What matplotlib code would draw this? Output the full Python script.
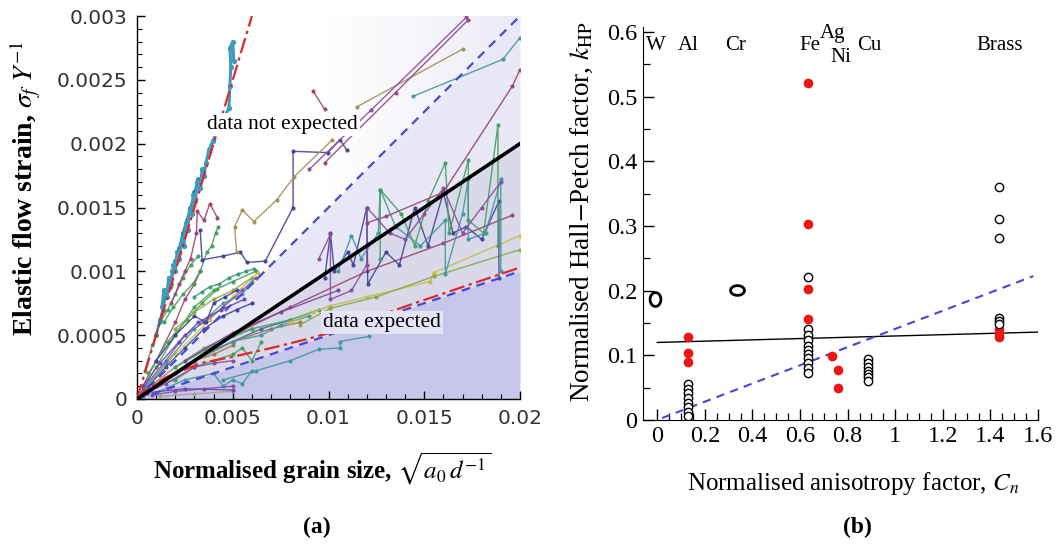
import numpy as np
import matplotlib
matplotlib.use("Agg")
import matplotlib.pyplot as plt
from matplotlib.path import Path
from matplotlib.patches import Polygon
from matplotlib.colors import LinearSegmentedColormap
from matplotlib.ticker import MultipleLocator, FixedLocator, FuncFormatter

plt.rcParams['font.family'] = ['Liberation Serif', 'DejaVu Serif']
plt.rcParams['mathtext.fontset'] = 'stix'

# ---------------- panel (a): elastic flow strain vs normalised grain size ----------------
# reference lines  sigma_f / Y = k * sqrt(a0/d)
ref_x = [0.0, 0.02]
ref_low = [0.0, 0.001]      # k = 0.05
ref_mid = [0.0, 0.002]      # k = 0.10
ref_high = [0.0, 0.003]     # k = 0.15
steep_x = [0.0, 0.006]
steep_y = [0.0, 0.003]
# lower red fit (units of 1e-3)
redfit_x = [0.0, 0.5, 1.5, 3.3, 5.0, 7.3, 8.9, 10.1, 14.3, 20.0]
redfit_y = [0.0, 0.07, 0.17, 0.28, 0.33, 0.41, 0.47, 0.52, 0.74, 1.03]

# experimental series, both coordinates in units of 1e-3
cyan_x = [1.3, 1.4, 1.55, 1.65, 1.8, 1.9, 2.0, 2.1, 2.2, 2.35, 2.45, 2.55, 2.65, 2.75, 2.85, 2.95, 3.05, 3.15,
          3.3, 3.4, 3.5, 3.6, 3.75, 3.95, 4.8, 4.85, 4.9, 4.85, 5.0, 5.05]
cyan_y = [0.72, 0.85, 0.8, 0.95, 0.9, 1.05, 1.0, 1.15, 1.1, 1.25, 1.2, 1.38, 1.32, 1.5, 1.45, 1.6, 1.55, 1.7,
          1.65, 1.8, 1.75, 1.85, 1.95, 2.02, 2.28, 2.45, 2.6, 2.75, 2.8, 2.65]
cyan2_x = [1.0, 1.2, 1.35, 1.5, 1.7, 1.85, 2.0, 2.2, 2.4, 2.6, 2.8, 3.0, 3.2]
cyan2_y = [0.5, 0.62, 0.7, 0.82, 0.88, 1.0, 1.08, 1.18, 1.3, 1.4, 1.5, 1.62, 1.72]
plum_steep_x = [1.8, 2.2, 2.5, 2.8, 3.1, 3.15, 3.5, 3.8, 4.2]
plum_steep_y = [0.75, 0.9, 1.0, 1.1, 1.3, 1.47, 1.4, 1.53, 1.42]
green_steep_x = [1.4, 1.9, 2.4, 2.9, 3.3, 3.65, 3.9, 4.1, 4.25]
green_steep_y = [0.6, 0.72, 0.82, 0.9, 1.0, 1.15, 1.2, 1.3, 1.35]
navy_long_x = [3.3, 3.4, 4.5, 5.4, 5.75, 6.7, 8.15, 8.15, 9.97, 10.6, 10.96]
navy_long_y = [1.32, 1.09, 1.12, 1.15, 1.07, 1.08, 1.5, 1.94, 1.93, 2.03, 1.95]
olive_zig_x = [5.2, 5.1, 5.5, 6.1, 7.3, 8.2, 10.2]
olive_zig_y = [1.15, 1.35, 1.48, 1.39, 1.56, 1.74, 2.03]
olive_long_x = [11.5, 17.0]
olive_long_y = [2.29, 2.74]
purple_long_x = [9.0, 12.2, 17.2]
purple_long_y = [1.80, 2.26, 2.99]
plum_long_x = [9.8, 13.5, 17.3]
plum_long_y = [1.85, 2.4, 2.97]
teal_up_x = [14.4, 19.1, 20.0]
teal_up_y = [2.37, 2.66, 2.83]
plum_up_x = [12.0, 13.0, 16.0, 19.6, 20.0]
plum_up_y = [1.38, 1.43, 1.62, 2.45, 2.58]
plum_short_x = [9.2, 9.8]
plum_short_y = [2.41, 2.27]

zig_navy_x = [9.8, 10.1, 10.3, 11.0, 11.3, 12.0, 12.05, 13.0, 13.7, 14.5, 15.2, 16.0, 16.5, 17.2, 18.0, 18.9, 18.9]
zig_navy_y = [0.95, 1.3, 1.0, 1.15, 1.05, 1.5, 0.9, 1.15, 1.05, 1.5, 1.2, 1.62, 1.3, 1.35, 1.25, 1.55, 0.95]
zig_teal_x = [10.5, 11.2, 11.7, 12.6, 12.7, 13.5, 14.8, 16.1, 16.1, 17.0, 17.3, 17.3, 18.2, 19.0, 19.0]
zig_teal_y = [1.0, 1.28, 1.1, 1.3, 1.64, 1.35, 1.2, 1.4, 0.98, 1.45, 1.72, 1.25, 1.3, 1.72, 1.0]
zig_green_x = [12.7, 12.7, 13.8, 14.5, 15.2, 16.1, 16.3, 17.3, 17.3, 18.1, 18.85, 18.85]
zig_green_y = [1.1, 1.64, 1.45, 1.2, 1.55, 1.85, 1.3, 1.87, 1.4, 1.3, 2.15, 1.2]
zig_purple_x = [9.5, 10.1, 10.1, 11.2, 12.0, 12.0, 13.2, 14.0, 15.0, 16.0, 17.0, 18.0, 19.0]
zig_purple_y = [1.1, 1.29, 0.78, 0.85, 1.05, 1.5, 1.3, 1.25, 1.45, 1.65, 1.3, 1.5, 1.7]

plum_low_x = [5.0, 8.0, 12.0, 16.0, 19.6]
plum_low_y = [0.5, 0.72, 1.0, 1.22, 1.44]
yellow_x = [8.0, 9.2, 10.1, 12.0, 15.3, 15.5, 20.0]
yellow_y = [0.6, 0.68, 0.73, 0.8, 0.92, 0.99, 1.28]
lime_x = [8.5, 10.1, 12.5, 15.5, 20.0]
lime_y = [0.58, 0.71, 0.8, 0.96, 1.17]
teal_low_x = [4.5, 6.2, 8.0, 9.5, 10.6, 10.6, 12.1]
teal_low_y = [0.15, 0.22, 0.3, 0.39, 0.4, 0.45, 0.49]

fan01_x = [0.2, 1.0, 2.0, 3.0, 4.0, 5.0, 6.2]
fan01_y = [0.05, 0.25, 0.5, 0.72, 0.85, 0.92, 1.0]
fan02_x = [0.5, 2.0, 3.8, 5.0, 6.3]
fan02_y = [0.1, 0.35, 0.62, 0.8, 0.99]
fan03_x = [0.3, 1.5, 2.5, 3.5, 4.5, 5.5, 6.2]
fan03_y = [0.08, 0.3, 0.5, 0.6, 0.72, 0.85, 0.95]
fan04_x = [0.5, 1.5, 3.0, 4.5, 5.5, 6.0]
fan04_y = [0.1, 0.28, 0.55, 0.75, 0.82, 0.92]
fan05_x = [0.4, 0.8, 1.2, 1.6, 2.0, 2.4, 2.8, 3.2]
fan05_y = [0.22, 0.42, 0.6, 0.7, 0.82, 0.95, 1.05, 1.12]
fan06_x = [3.0, 3.4, 3.8, 4.3, 4.8, 5.3, 5.7, 6.1]
fan06_y = [0.8, 0.84, 0.88, 0.9, 0.95, 0.98, 1.0, 1.02]
fan07_x = [0.3, 1.0, 2.0, 2.5, 3.0, 3.3]
fan07_y = [0.1, 0.3, 0.6, 0.78, 0.9, 1.0]
fan08_x = [0.3, 1.5, 2.5, 3.5, 4.5, 5.2, 6.0]
fan08_y = [0.05, 0.25, 0.4, 0.55, 0.65, 0.7, 0.75]
fan09_x = [0.5, 2.0, 3.5, 5.0, 6.5, 8.0]
fan09_y = [0.05, 0.2, 0.35, 0.45, 0.55, 0.62]
fan10_x = [0.5, 2.0, 3.5, 5.0, 6.0]
fan10_y = [0.08, 0.25, 0.4, 0.5, 0.55]
fan11_x = [0.5, 2.0, 3.0, 4.0, 5.0]
fan11_y = [0.06, 0.2, 0.3, 0.35, 0.42]
fan12_x = [1.0, 2.0, 3.0, 4.0, 5.0, 5.5, 6.0, 6.5]
fan12_y = [0.1, 0.15, 0.25, 0.3, 0.35, 0.4, 0.3, 0.45]
fan13_x = [1.0, 2.5, 4.0, 4.5, 5.0, 5.5, 6.0]
fan13_y = [0.05, 0.15, 0.2, 0.1, 0.15, 0.12, 0.22]
fan14_x = [0.5, 1.5, 3.0, 4.0, 5.0]
fan14_y = [0.05, 0.12, 0.25, 0.28, 0.3]
fan15_x = [0.3, 1.2, 2.2, 3.2, 4.4, 5.6]
fan15_y = [0.1, 0.28, 0.45, 0.6, 0.7, 0.78]
fan16_x = [0.6, 1.6, 2.6, 3.4, 4.2]
fan16_y = [0.2, 0.45, 0.62, 0.75, 0.86]
fan17_x = [2.0, 3.0, 4.0, 5.0, 6.0]
fan17_y = [0.55, 0.68, 0.78, 0.85, 0.95]
fan18_x = [1.0, 2.0, 3.0, 3.6, 4.0, 4.6, 5.2]
fan18_y = [0.3, 0.5, 0.65, 0.6, 0.75, 0.8, 0.85]

mid01_x = [2.0, 4.0, 6.0, 8.0, 9.5]
mid01_y = [0.25, 0.42, 0.55, 0.62, 0.7]
mid02_x = [1.0, 3.0, 5.0, 7.0, 8.5]
mid02_y = [0.12, 0.3, 0.45, 0.55, 0.6]
mid03_x = [3.0, 5.0, 6.5, 7.5, 9.0]
mid03_y = [0.3, 0.45, 0.5, 0.58, 0.65]
mid04_x = [2.5, 5.0, 7.5, 10.5]
mid04_y = [0.3, 0.52, 0.68, 0.85]

base01_x = [0.8, 2.0, 3.5, 5.0]
base01_y = [0.03, 0.06, 0.08, 0.1]
base02_x = [1.2, 3.0, 5.0]
base02_y = [0.02, 0.04, 0.06]
base03_x = [0.5, 2.5, 5.0]
base03_y = [0.05, 0.08, 0.07]

# ---------------- panel (b): Hall-Petch factor vs anisotropy factor ----------------
metal_names = ['W', 'Al', 'Cr', 'Fe', 'Ag', 'Ni', 'Cu', 'Brass']
name_x = [-0.008, 0.13, 0.33, 0.64, 0.735, 0.77, 0.89, 1.44]
name_y = [0.58, 0.58, 0.58, 0.58, 0.598, 0.561, 0.58, 0.58]

w_x = [-0.01]
w_y = [0.187]
cr_x = [0.336]
cr_y = [0.201]
open_x = ([0.13] * 8 + [0.634] * 11 + [0.886] * 7 + [1.437] * 6)
open_y = ([0.055, 0.048, 0.041, 0.034, 0.027, 0.020, 0.013, 0.006]
          + [0.221, 0.141, 0.131, 0.123, 0.115, 0.108, 0.102, 0.096, 0.088, 0.080, 0.073]
          + [0.095, 0.088, 0.082, 0.076, 0.071, 0.066, 0.060]
          + [0.360, 0.311, 0.281, 0.158, 0.153, 0.148])
red_x = [0.13, 0.13, 0.13, 0.634, 0.634, 0.634, 0.634, 0.735, 0.76, 0.76, 1.437, 1.437, 1.437]
red_y = [0.128, 0.104, 0.090, 0.521, 0.304, 0.203, 0.157, 0.099, 0.077, 0.049, 0.141, 0.135, 0.129]
fit_x = [0.0, 1.6]
fit_y = [0.120, 0.136]
model_x = [0.02, 1.58]
model_y = [0.003, 0.2226]

# ---------------- figure ----------------
W, H = 1059, 555
fig = plt.figure(figsize=(W / 100, H / 100), dpi=100)
axa = fig.add_axes([137 / W, 156 / H, 383 / W, 383 / H])
axb = fig.add_axes([643 / W, 135 / H, 395 / W, 393 / H])

NAVY = '#40409a'
PLUM = '#9a4272'
OLIVE = '#a39050'
GREEN = '#42a05a'
BLUE = '#4262a6'
PURPLE = '#8a4aa6'
BROWN = '#a37442'
LIME = '#8aa845'
TEAL = '#3f98a3'
VIOLET = '#6c48a6'
YELLOW = '#c4bc4a'
CYAN = '#3d9cc0'

m = 1e-3
series = [
    (fan01_x, fan01_y, GREEN), (fan02_x, fan02_y, YELLOW), (fan03_x, fan03_y, PURPLE),
    (fan04_x, fan04_y, TEAL), (fan05_x, fan05_y, GREEN), (fan06_x, fan06_y, '#3d9a78'),
    (fan07_x, fan07_y, PLUM), (fan08_x, fan08_y, NAVY), (fan09_x, fan09_y, BLUE),
    (fan10_x, fan10_y, OLIVE), (fan11_x, fan11_y, BROWN), (fan12_x, fan12_y, GREEN),
    (fan13_x, fan13_y, TEAL), (fan14_x, fan14_y, PURPLE), (fan15_x, fan15_y, VIOLET),
    (fan16_x, fan16_y, '#4aa84a'), (fan17_x, fan17_y, LIME), (fan18_x, fan18_y, NAVY),
    (mid01_x, mid01_y, GREEN), (mid02_x, mid02_y, BROWN), (mid03_x, mid03_y, TEAL),
    (mid04_x, mid04_y, VIOLET),
    (base01_x, base01_y, PURPLE), (base02_x, base02_y, '#b0a080'), (base03_x, base03_y, VIOLET),
    (plum_low_x, plum_low_y, PLUM), (yellow_x, yellow_y, YELLOW), (lime_x, lime_y, LIME),
    (teal_low_x, teal_low_y, TEAL),
    (zig_navy_x, zig_navy_y, NAVY), (zig_teal_x, zig_teal_y, TEAL),
    (zig_green_x, zig_green_y, GREEN), (zig_purple_x, zig_purple_y, PURPLE),
    (plum_steep_x, plum_steep_y, PLUM), (green_steep_x, green_steep_y, GREEN),
    (navy_long_x, navy_long_y, NAVY), (olive_zig_x, olive_zig_y, OLIVE),
    (olive_long_x, olive_long_y, OLIVE), (purple_long_x, purple_long_y, PURPLE),
    (plum_long_x, plum_long_y, PLUM), (teal_up_x, teal_up_y, TEAL),
    (plum_up_x, plum_up_y, PLUM), (plum_short_x, plum_short_y, PLUM),
]

# shaded regions between the reference lines
axa.fill_between(ref_x, 0, ref_low, color='#c6c6ea', lw=0, zorder=0)
axa.fill_between(ref_x, ref_low, ref_mid, color='#d9d9ea', lw=0, zorder=0)
axa.fill_between(ref_x, ref_mid, ref_high, color='#e8e8f6', lw=0, zorder=0)
# faint haze above the upper line, fading towards the y axis
haze = LinearSegmentedColormap.from_list('haze', ['#ffffff', '#ffffff', '#ebebf7'])
im = axa.imshow(np.linspace(0, 1, 256).reshape(1, -1), extent=[0, 0.02, 0, 0.003],
                aspect='auto', cmap=haze, origin='lower', zorder=0, interpolation='bilinear')
im.set_clip_path(Polygon([[0, 0], [0.02, 0.003], [0, 0.003]], closed=True, transform=axa.transData))

for xs, ys, c in series:
    axa.plot(np.array(xs) * m, np.array(ys) * m, color=c, lw=1.0, marker='o', ms=2.0,
             alpha=0.9, zorder=2)
axa.plot(np.array(cyan2_x) * m, np.array(cyan2_y) * m, color='#2f82a8', lw=1.8, marker='o', ms=2.5, zorder=2)
axa.plot(np.array(cyan_x) * m, np.array(cyan_y) * m, color=CYAN, lw=2.2, marker='o', ms=2.8, zorder=2)

dash = (0, (4, 3))
dashdot = (0, (7, 2, 1.5, 2))
axa.plot(ref_x, ref_high, color='#4848d6', lw=1.6, ls=dash, zorder=3)
axa.plot(ref_x, ref_low, color='#4848d6', lw=1.6, ls=dash, zorder=3)
axa.plot(np.array(redfit_x) * m, np.array(redfit_y) * m, color='#e02828', lw=1.6, ls=dashdot, zorder=3)
axa.plot(steep_x, steep_y, color='#e02828', lw=1.6, ls=dashdot, zorder=3)
axa.plot(ref_x, ref_mid, color='black', lw=2.6, zorder=4)

axa.text(0.0076, 0.00215, 'data not expected', ha='center', va='center', fontsize=15.5,
         bbox=dict(fc='white', ec='none', pad=1.5), zorder=6)
axa.text(0.0128, 0.0006, 'data expected', ha='center', va='center', fontsize=15.5,
         bbox=dict(fc='#e4e4f6', ec='none', pad=1.5), zorder=6)

axa.set_xlim(0, 0.02)
axa.set_ylim(0, 0.003)
for s in ('top', 'right'):
    axa.spines[s].set_visible(False)
for s in ('left', 'bottom'):
    axa.spines[s].set_linewidth(1.0)
axa.xaxis.set_major_locator(MultipleLocator(0.005))
axa.xaxis.set_minor_locator(MultipleLocator(0.001))
axa.yaxis.set_major_locator(MultipleLocator(0.0005))
axa.yaxis.set_minor_locator(MultipleLocator(0.0001))
fmt = FuncFormatter(lambda v, p: f'{v:g}')
axa.xaxis.set_major_formatter(fmt)
axa.yaxis.set_major_formatter(fmt)
axa.tick_params(which='major', direction='in', length=6, width=1.0, labelsize=14.5, pad=7,
                labelcolor='#333333')
axa.tick_params(which='minor', direction='in', length=3.5, width=0.8)
for lab in axa.get_xticklabels() + axa.get_yticklabels():
    lab.set_family('DejaVu Sans')
axa.set_ylabel(r'Elastic flow strain, $\sigma_f\;Y^{-1}$', fontsize=20, fontweight='bold')
axa.yaxis.set_label_coords(-0.245, 0.55)
axa.set_xlabel(r'Normalised grain size, $\sqrt{a_0\,d^{-1}}$', fontsize=18, fontweight='bold')
axa.xaxis.set_label_coords(0.483, -0.135)

# ---- panel (b) ----
axb.plot(fit_x, fit_y, color='black', lw=1.0, zorder=2)
axb.plot(model_x, model_y, color='#4646d2', lw=1.5, ls=(0, (4, 3)), zorder=2)
axb.plot(red_x, red_y, ls='none', marker='o', ms=7, mfc='#ee1515', mec='none', zorder=3)
axb.plot(open_x, open_y, ls='none', marker='o', ms=6, mfc='white', mec='black', mew=1.0, zorder=4)

theta = np.linspace(0, 2 * np.pi, 80)
tall = Path(np.column_stack([0.78 * np.cos(theta), np.sin(theta)]), closed=True)
wide = Path(np.column_stack([np.cos(theta), 0.7 * np.sin(theta)]), closed=True)
axb.plot(w_x, w_y, ls='none', marker=tall, ms=10, mfc='white', mec='black', mew=2.0, zorder=4)
axb.plot(cr_x, cr_y, ls='none', marker=wide, ms=10, mfc='white', mec='black', mew=2.0, zorder=4)

for name, tx, ty in zip(metal_names, name_x, name_y):
    axb.text(tx, ty, name, ha='center', va='center', fontsize=15)

axb.set_xlim(-0.06, 1.6)
axb.set_ylim(0, 0.608)
for s in ('top', 'right'):
    axb.spines[s].set_visible(False)
axb.xaxis.set_major_locator(FixedLocator(np.arange(0, 1.61, 0.2)))
axb.xaxis.set_minor_locator(FixedLocator(np.arange(0, 1.61, 0.05)))
axb.yaxis.set_major_locator(MultipleLocator(0.1))
axb.yaxis.set_minor_locator(MultipleLocator(0.05))
axb.xaxis.set_major_formatter(fmt)
axb.yaxis.set_major_formatter(fmt)
axb.tick_params(which='major', direction='in', length=8, width=1.0, labelsize=17.5, pad=4)
axb.tick_params(which='minor', direction='in', length=5, width=0.9)
axb.set_ylabel(r'Normalised Hall$-$Petch factor, $k_{\mathrm{HP}}$', fontsize=19.5)
axb.yaxis.set_label_coords(-0.122, 0.53)
axb.set_xlabel(r'Normalised anisotropy factor, $C_n$', fontsize=18)
axb.xaxis.set_label_coords(0.532, -0.128)

fig.text(317 / W, 1 - 527 / H, '(a)', ha='center', va='center', fontsize=17, fontweight='bold')
fig.text(857 / W, 1 - 527 / H, '(b)', ha='center', va='center', fontsize=17, fontweight='bold')

fig.savefig('out.png', dpi=100, facecolor='white')
